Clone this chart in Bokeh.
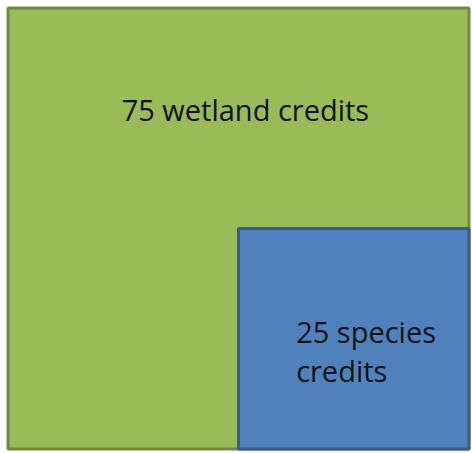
import math
from bokeh.plotting import figure
from bokeh.models import Range1d, ColumnDataSource
from bokeh.core.properties import value
from bokeh.embed import file_html
from bokeh.resources import INLINE

# ---- data ----
categories = ["75 wetland credits", "25 species\ncredits"]
credits = [75, 25]
fill_colors = ["#9BBB59", "#4F81BD"]
line_colors = ["#71893F", "#385D8A"]

total = sum(credits)
# blue square nested in the bottom-right corner of the whole square;
# its side is the square root of its share of the total
side = math.sqrt(credits[1] / total)

left = [0.0, 1.0 - side]
right = [1.0, 1.0]
bottom = [0.0, 0.0]
top = [1.0, side]

src = ColumnDataSource(dict(left=left, right=right, bottom=bottom, top=top,
                            fill=fill_colors, line=line_colors))

# pixel layout of the unit square inside the figure
W, H = 472, 453
x0_px, x1_px = 7.5, 468.5
y1_px, y0_px = 7.5, 448.5   # top, bottom (from top of figure)
sx = x1_px - x0_px
sy = y0_px - y1_px

p = figure(width=W, height=H, output_backend="svg", toolbar_location=None,
           x_range=Range1d(-x0_px / sx, 1 + (W - x1_px) / sx),
           y_range=Range1d(-(H - y0_px) / sy, 1 + y1_px / sy),
           min_border=0)
p.axis.visible = False
p.grid.visible = False
p.outline_line_color = None
p.background_fill_color = "white"
p.border_fill_color = "white"

p.quad(left="left", right="right", bottom="bottom", top="top", source=src,
       fill_color="fill", line_color="line", line_width=3)

# labels
p.text(x=[0.515], y=[0.77], text=[categories[0]],
       text_font=value("Open Sans"), text_font_size="29px",
       text_color="#111111", text_align="center", text_baseline="alphabetic")
p.text(x=[0.625], y=[0.222], text=[categories[1]],
       text_font=value("Open Sans"), text_font_size="29px",
       text_color="#111111", text_align="left", text_baseline="middle",
       text_line_height=1.0)

open("out.html", "w").write(file_html(p, INLINE))
